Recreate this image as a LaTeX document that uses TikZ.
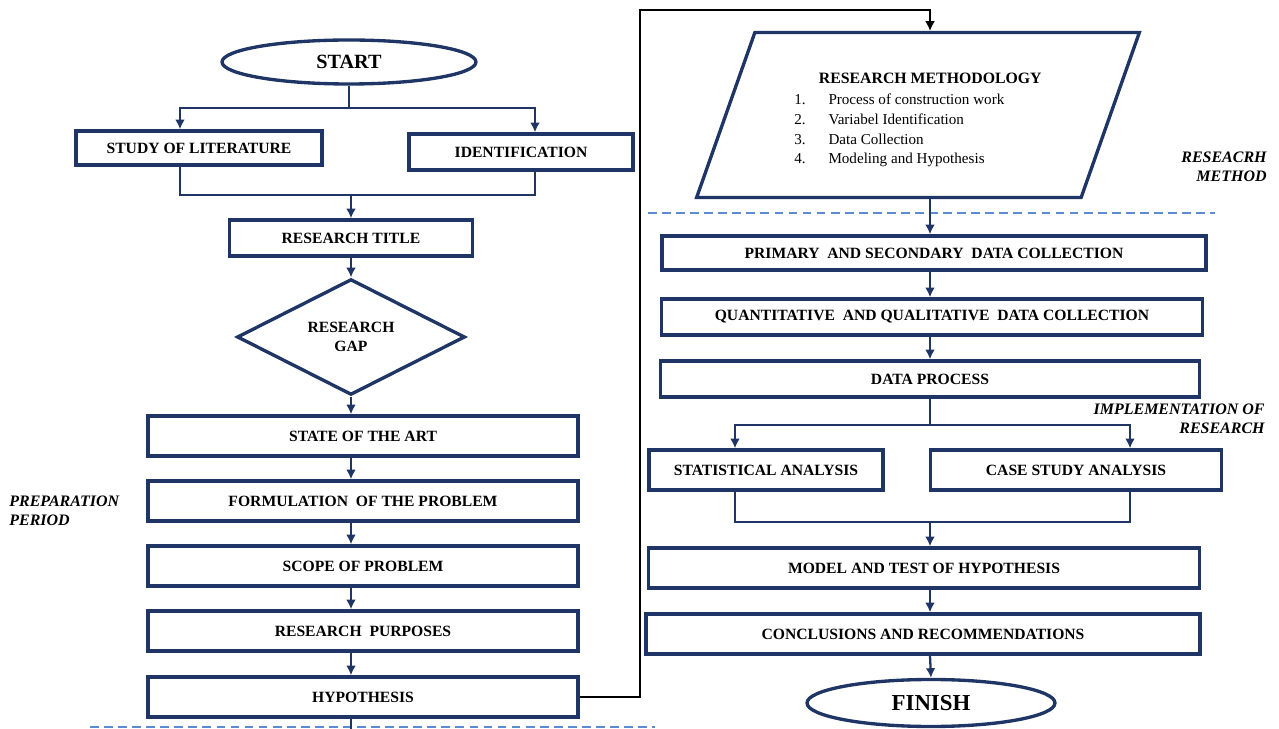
\documentclass[tikz,border=0pt]{standalone}
\usepackage{fontspec}
\setmainfont{Liberation Serif}
\usetikzlibrary{shapes.geometric,arrows.meta}

\definecolor{navy}{HTML}{1F3566}
\definecolor{sepblue}{HTML}{5B8BD0}

\tikzset{
 box/.style={draw=navy, line width=1.9pt, fill=white, inner sep=0pt, font=\fontsize{8.9}{10.5}\selectfont\bfseries},
 link/.style={draw=navy, line width=1.3pt, -{Latex[length=5.5pt,width=5.5pt]}},
 wire/.style={draw=navy, line width=1.3pt},
 sep/.style={draw=sepblue, line width=1pt, dash pattern=on 5pt off 3pt},
 phase/.style={font=\fontsize{9.1}{11}\selectfont\bfseries\itshape, inner sep=0pt},
}

\begin{document}
\begin{tikzpicture}[x=0.02cm, y=-0.02cm]

\useasboundingbox (0,0) rectangle (1279,729);

% separators
\draw [sep] (90,727) -- (655,727);
\draw [sep] (648,213) -- (1215,213);

% preparation period
\node[box, ellipse, font=\fontsize{11.5}{13}\selectfont\bfseries] (start) at (349,62) [minimum width=5.08cm, minimum height=0.88cm] {START};
\node[box] (lit) at (199,148) [minimum width=4.92cm, minimum height=0.68cm] {STUDY OF LITERATURE};
\node[box] (ident) at (521,152) [minimum width=4.48cm, minimum height=0.72cm] {IDENTIFICATION};
\node[box] (title) at (351,238) [minimum width=4.86cm, minimum height=0.72cm] {RESEARCH TITLE};
\node[box, diamond, align=center] (gap) at (351,337) [minimum width=4.56cm, minimum height=2.26cm] {RESEARCH\\GAP};
\node[box] (art) at (363,436) [minimum width=8.6cm, minimum height=0.8cm] {STATE OF THE ART};
\node[box] (form) at (363,501) [minimum width=8.6cm, minimum height=0.8cm] {FORMULATION\ \ OF THE PROBLEM};
\node[box] (scope) at (363,566) [minimum width=8.6cm, minimum height=0.8cm] {SCOPE OF PROBLEM};
\node[box] (purp) at (363,631) [minimum width=8.6cm, minimum height=0.8cm] {RESEARCH\ \ PURPOSES};
\node[box] (hyp) at (363,697) [minimum width=8.6cm, minimum height=0.8cm] {HYPOTHESIS};

\node[phase, align=left, anchor=west] (prep) at (9,511) {PREPARATION\\PERIOD};

% research method
\node[box, trapezium, trapezium left angle=68, trapezium right angle=112, trapezium stretches=true, font=\fontsize{8.6}{11.2}\selectfont] (meth) at (918,115) [minimum width=8.86cm, minimum height=3.3cm] {%
\begin{tabular}{@{}l@{\hspace{13pt}}l@{}}
\multicolumn{2}{@{\hspace{14pt}}l@{}}{\rule{0pt}{13pt}\fontsize{9}{11}\selectfont\bfseries RESEARCH METHODOLOGY}\\[1pt]
1. & Process of construction work\\
2. & Variabel Identification\\
3. & Data Collection\\
4. & Modeling and Hypothesis
\end{tabular}};

\node[phase, align=right, anchor=east] (methlabel) at (1267,167) {RESEACRH\\METHOD};

% implementation of research
\node[box] (prim) at (934,253) [minimum width=10.88cm, minimum height=0.68cm] {PRIMARY\ \ AND SECONDARY\ \ DATA COLLECTION};
\node[box] (quant) at (932,317) [minimum width=10.82cm, minimum height=0.72cm] {QUANTITATIVE\ \ AND QUALITATIVE\ \ DATA COLLECTION};
\node[box] (proc) at (930,379) [minimum width=10.78cm, minimum height=0.72cm] {DATA PROCESS};
\node[box] (stat) at (766,470) [minimum width=4.68cm, minimum height=0.8cm] {STATISTICAL ANALYSIS};
\node[box] (case) at (1076,470) [minimum width=5.82cm, minimum height=0.8cm] {CASE STUDY ANALYSIS};
\node[box] (model) at (924,568) [minimum width=11.02cm, minimum height=0.8cm] {MODEL AND TEST OF HYPOTHESIS};
\node[box] (concl) at (923,634) [minimum width=11.08cm, minimum height=0.8cm] {CONCLUSIONS AND RECOMMENDATIONS};
\node[box, ellipse, font=\fontsize{13}{15}\selectfont\bfseries] (finish) at (931,703) [minimum width=4.96cm, minimum height=0.94cm] {FINISH};

\node[phase, align=right, anchor=east] (impl) at (1265,419) {IMPLEMENTATION OF\\RESEARCH};

% connectors, left
\coordinate (splitL) at (180,108);
\coordinate (splitR) at (535,108);
\coordinate (joinL) at (180,195);
\coordinate (joinR) at (535,195);
\coordinate (bottom) at (351,729);

\draw [link] (start.south) -- (start.south |- splitL) -| (splitL |- lit.north);
\draw [link] (start.south |- splitL) -| (splitR |- ident.north);
\draw [wire] (joinL |- lit.south) -- (joinL) -- (joinR) -- (joinR |- ident.south);
\draw [link] (title.north |- joinL) -- (title.north);
\draw [link] (title.south) -- (gap.north);
\draw [link] (gap.south) -- (gap.south |- art.north);
\draw [link] (art.south -| gap.south) -- (form.north -| gap.south);
\draw [link] (form.south -| gap.south) -- (scope.north -| gap.south);
\draw [link] (scope.south -| gap.south) -- (purp.north -| gap.south);
\draw [link] (purp.south -| gap.south) -- (hyp.north -| gap.south);
\draw [wire] (hyp.south -| bottom) -- (bottom);

% hypothesis to methodology
\coordinate (up) at (640,10);
\coordinate (over) at (930,10);
\draw [link, draw=black, line width=0.8pt] (hyp.east) -- (hyp.east -| up) -- (up) -- (over) -- (over |- meth.north);

% connectors, right
\coordinate (splitL2) at (735,425);
\coordinate (splitR2) at (1130,425);
\coordinate (joinL2) at (735,522);
\coordinate (joinR2) at (1130,522);

\draw [link] (over |- meth.south) -- (over |- prim.north);
\draw [link] (over |- prim.south) -- (over |- quant.north);
\draw [link] (over |- quant.south) -- (over |- proc.north);
\draw [link] (over |- proc.south) -- (over |- splitL2) -| (splitL2 |- stat.north);
\draw [link] (over |- splitL2) -| (splitR2 |- case.north);
\draw [wire] (joinL2 |- stat.south) -- (joinL2) -- (joinR2) -- (joinR2 |- case.south);
\draw [link] (over |- joinL2) -- (over |- model.north);
\draw [link] (over |- model.south) -- (over |- concl.north);
\draw [link] (over |- concl.south) -- (finish.north);

\end{tikzpicture}
\end{document}
